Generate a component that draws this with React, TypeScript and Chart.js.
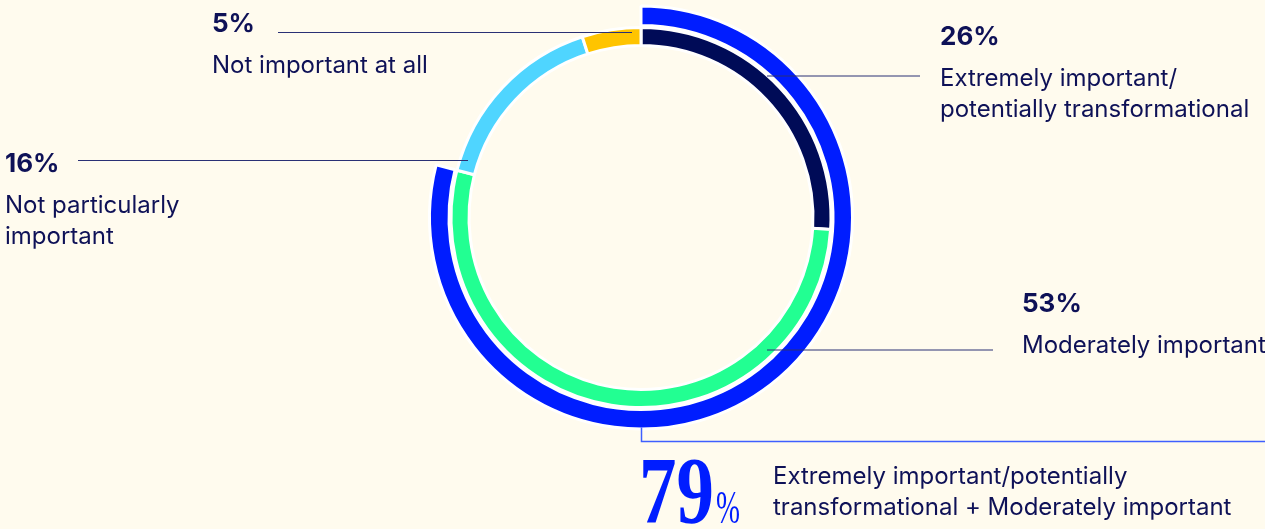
import React, { useEffect, useRef } from 'react';
import { Chart, registerables } from 'chart.js';

Chart.register(...registerables);

// ---------- data ----------
const categories = [
  'Extremely important/potentially transformational',
  'Moderately important',
  'Not particularly important',
  'Not important at all',
];
const shares = [26, 53, 16, 5];
const shareColors = ['#000B57', '#22FF92', '#4FD5FF', '#FFC400'];

const combinedShare = [79, 21];
const combinedColors = ['#001DFF', 'rgba(0,0,0,0)'];

const labelLines = [
  ['Extremely important/', 'potentially transformational'],
  ['Moderately important'],
  ['Not particularly', 'important'],
  ['Not important at all'],
];
const combinedLabelLines = ['Extremely important/potentially', 'transformational + Moderately important'];

// ---------- layout (positions / styles) ----------
const BG = '#FFFBEE';
const NAVY = '#0E1157';
const LINE = '#2A3075';
const BLUE_LINE = '#3F5FFF';

// per category: text x, pct baseline, leader line (arc end offset from centre, far x, y offset)
const LAYOUT = [
  { tx: 940, ty: 45, arcDx: 126, lineDy: -141.5, farX: 920 },
  { tx: 1022, ty: 312, arcDx: 126, lineDy: 132.5, farX: 993 },
  { tx: 5, ty: 172, arcDx: -173, lineDy: -57, farX: 78 },
  { tx: 212, ty: 32, arcDx: -9, lineDy: -185, farX: 278 },
];

const annotate = {
  id: 'annotate',
  afterDatasetsDraw(chart: any) {
    const ctx: CanvasRenderingContext2D = chart.ctx;
    const innerArc: any = chart.getDatasetMeta(2).data[0];
    const outerArc: any = chart.getDatasetMeta(0).data[0];
    const cx = innerArc.x;
    const cy = innerArc.y;
    ctx.save();

    // leader lines
    ctx.strokeStyle = LINE;
    ctx.lineWidth = 1;
    LAYOUT.forEach((l) => {
      const y = cy + l.lineDy;
      ctx.beginPath();
      ctx.moveTo(cx + l.arcDx, y);
      ctx.lineTo(l.farX, y);
      ctx.stroke();
    });

    // category labels
    ctx.fillStyle = NAVY;
    ctx.textBaseline = 'alphabetic';
    ctx.textAlign = 'left';
    shares.forEach((v, i) => {
      const l = LAYOUT[i];
      ctx.font = 'bold 26px Inter';
      ctx.fillText(`${v}%`, l.tx, l.ty);
      ctx.font = '24px Inter';
      labelLines[i].forEach((t, k) => {
        ctx.fillText(t, l.tx, l.ty + 41 + k * 31);
      });
    });

    // combined bracket line
    const bottomY = cy + outerArc.outerRadius - 1.5;
    const lineY = 441.5;
    ctx.strokeStyle = BLUE_LINE;
    ctx.lineWidth = 1.5;
    ctx.beginPath();
    ctx.moveTo(cx + 0.5, bottomY);
    ctx.lineTo(cx + 0.5, lineY);
    ctx.lineTo(chart.width, lineY);
    ctx.stroke();

    // big 79%
    ctx.fillStyle = '#001DFF';
    ctx.font = 'bold 95px "Liberation Serif"';
    const big = `${combinedShare[0]}`;
    const bw = ctx.measureText(big).width;
    ctx.save();
    ctx.translate(639, 523);
    ctx.scale(75 / bw, 1);
    ctx.fillText(big, 0, 0);
    ctx.restore();
    ctx.font = '46px "Liberation Serif"';
    const pw = ctx.measureText('%').width;
    ctx.save();
    ctx.translate(716, 523);
    ctx.scale(24 / pw, 1);
    ctx.fillText('%', 0, 0);
    ctx.restore();

    ctx.fillStyle = NAVY;
    ctx.font = '24px Inter';
    combinedLabelLines.forEach((t, k) => {
      ctx.fillText(t, 773, 484 + k * 31);
    });

    ctx.restore();
  },
};

export default function App() {
  const ref = useRef<HTMLCanvasElement>(null);

  useEffect(() => {
    document.body.style.margin = '0';
    document.body.style.background = BG;
    const canvas = ref.current!;
    const outerR = 211.5;
    const innerR = 172;
    const chart = new Chart(canvas, {
      type: 'doughnut',
      data: {
        labels: categories,
        datasets: [
          {
            label: 'Combined',
            data: combinedShare,
            backgroundColor: combinedColors,
            borderColor: ['#FFFFFF', 'rgba(0,0,0,0)'],
            borderWidth: [3, 0],
            weight: 19.5,
          } as any,
          {
            label: 'spacer',
            data: combinedShare,
            backgroundColor: ['#FFFFFF', 'rgba(0,0,0,0)'],
            borderWidth: 0,
            weight: 2,
          } as any,
          {
            label: 'Share',
            data: shares,
            backgroundColor: shareColors,
            borderColor: '#FFFFFF',
            borderWidth: 3,
            weight: 18,
          } as any,
        ],
      },
      options: {
        responsive: false,
        animation: false,
        radius: outerR,
        cutout: `${(innerR / outerR) * 100}%`,
        layout: { padding: { left: 17, right: 0, top: 0, bottom: 94 } },
        plugins: {
          legend: { display: false },
          tooltip: { enabled: false },
          title: { display: false },
        },
        events: [],
      } as any,
      plugins: [annotate],
    });
    const fonts = (document as any).fonts;
    if (fonts && fonts.load) {
      Promise.all([
        fonts.load('24px Inter'),
        fonts.load('bold 26px Inter'),
        fonts.load('bold 95px "Liberation Serif"'),
        fonts.load('46px "Liberation Serif"'),
      ])
        .then(() => chart.update())
        .catch(() => {});
    }
    return () => chart.destroy();
  }, []);

  return (
    <div style={{ position: 'absolute', left: 0, top: 0, width: 1265, height: 529, background: BG }}>
      <canvas ref={ref} width={1265} height={529} style={{ display: 'block', width: 1265, height: 529 }} />
    </div>
  );
}
